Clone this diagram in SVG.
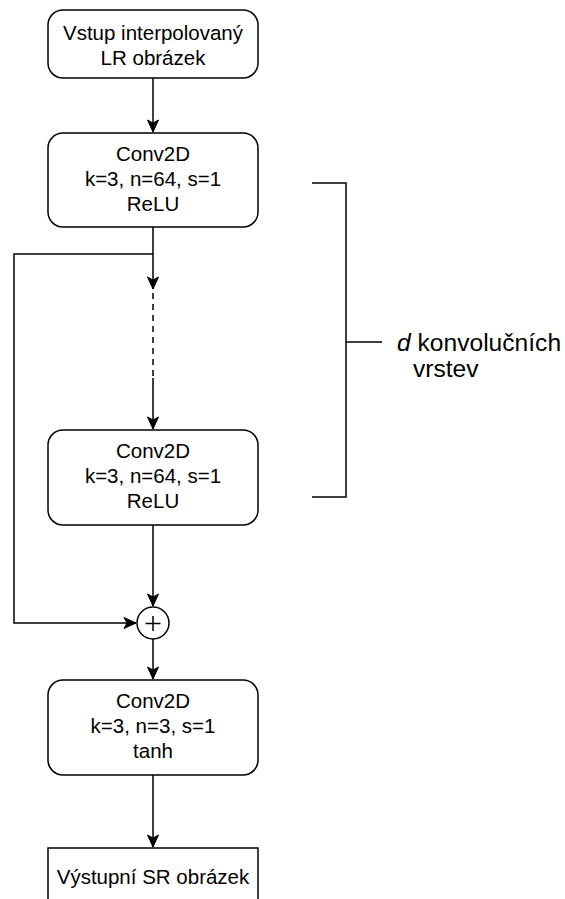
<svg xmlns="http://www.w3.org/2000/svg" width="565" height="899" viewBox="0 0 565 899">
<defs>
<style>
.box{fill:#fff;stroke:#000;stroke-width:1.5}
.ln{fill:none;stroke:#000;stroke-width:1.5}
.t{font-family:"Liberation Sans",Arial,sans-serif;font-size:20.5px;fill:#000;text-anchor:middle}
.lbl{font-family:"Liberation Sans",Arial,sans-serif;font-size:24.6px;fill:#000}
</style>
<marker id="arr" markerUnits="userSpaceOnUse" markerWidth="14" markerHeight="14" viewBox="0 0 14 14" refX="13" refY="7" orient="auto">
<path d="M1,1.5 L13,7 L1,12.5 L4,7 Z" fill="#000" stroke="#000" stroke-width="1"/>
</marker>
</defs>
<rect width="565" height="899" fill="#fff"/>
<g id="connectors">
<path class="ln" d="M153,78 V132" marker-end="url(#arr)"/>
<path class="ln" d="M153,227 V289" marker-end="url(#arr)"/>
<path class="ln" d="M153,293 V378" stroke-dasharray="6,5"/>
<path class="ln" d="M153,378 V429" marker-end="url(#arr)"/>
<path class="ln" d="M153,254 H14 V623 H136" marker-end="url(#arr)"/>
<path class="ln" d="M153,525 V606" marker-end="url(#arr)"/>
<path class="ln" d="M153,639 V679" marker-end="url(#arr)"/>
<path class="ln" d="M153,775 V847" marker-end="url(#arr)"/>
</g>
<g id="input">
<rect class="box" x="48" y="10" width="210" height="68" rx="15"/>
<text class="t" x="153" y="40">Vstup interpolovaný</text>
<text class="t" x="153" y="65">LR obrázek</text>
</g>
<g id="conv1">
<rect class="box" x="48" y="133" width="210" height="94" rx="15"/>
<text class="t" x="153" y="161">Conv2D</text>
<text class="t" x="153" y="186">k=3, n=64, s=1</text>
<text class="t" x="153" y="211">ReLU</text>
</g>
<g id="conv2">
<rect class="box" x="48" y="430" width="210" height="95" rx="15"/>
<text class="t" x="153" y="458">Conv2D</text>
<text class="t" x="153" y="483">k=3, n=64, s=1</text>
<text class="t" x="153" y="508">ReLU</text>
</g>
<g id="sum">
<circle class="box" cx="153" cy="623" r="16"/>
<path class="ln" d="M145.5,623.5 H160.5 M153,616 V631" stroke-width="2"/>
</g>
<g id="conv3">
<rect class="box" x="48" y="680" width="210" height="95" rx="15"/>
<text class="t" x="153" y="708">Conv2D</text>
<text class="t" x="153" y="733">k=3, n=3, s=1</text>
<text class="t" x="153" y="758">tanh</text>
</g>
<g id="output">
<rect class="box" x="48" y="848" width="210" height="70"/>
<text class="t" x="153" y="884">Výstupní SR obrázek</text>
</g>
<g id="bracket">
<path class="ln" d="M312,183 H346 V497 H312 M346,342 H382"/>
<text class="lbl" x="397" y="351"><tspan font-style="italic">d</tspan> konvolučních</text>
<text class="lbl" x="413" y="377">vrstev</text>
</g>
</svg>
